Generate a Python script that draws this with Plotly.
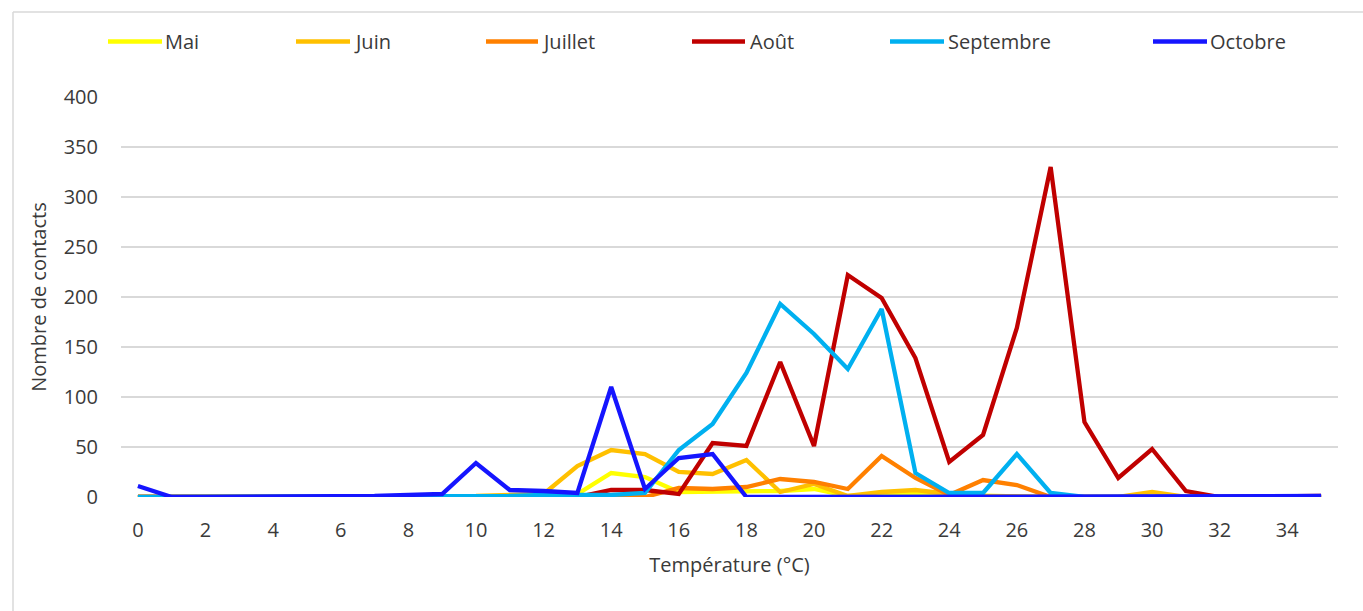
import plotly.graph_objects as go

temperatures = list(range(0, 36))
series_names = ["Mai", "Juin", "Juillet", "Août", "Septembre", "Octobre"]
series_colors = ["#FFFF00", "#FFC000", "#FF8000", "#C00000", "#00B0F0", "#1515FF"]

mai = [0, 0, 0, 0, 0, 0, 0, 0, 0, 0, 0, 1, 2, 3, 24, 20, 5, 5, 5, 6, 8, 1, 2, 3, 2, 1, 0, 0, 0, 0, 0, 0, 0, 0, 0, 0]
juin = [0, 0, 0, 0, 0, 0, 0, 0, 0, 0, 1, 2, 3, 31, 47, 43, 25, 23, 37, 5, 13, 1, 5, 7, 3, 1, 0, 0, 0, 0, 5, 0, 0, 0, 0, 0]
juillet = [0, 0, 0, 0, 0, 0, 0, 0, 0, 0, 0, 0, 0, 0, 1, 0, 9, 8, 10, 18, 15, 8, 41, 19, 2, 17, 12, 0, 0, 0, 0, 0, 0, 0, 0, 0]
aout = [0, 0, 0, 0, 0, 0, 0, 0, 0, 0, 0, 0, 0, 0, 7, 7, 3, 54, 51, 135, 51, 222, 199, 139, 35, 62, 169, 330, 75, 19, 48, 6, 0, 0, 0, 1]
septembre = [0, 0, 0, 0, 0, 0, 0, 0, 0, 0, 1, 1, 2, 2, 2, 4, 47, 73, 124, 193, 163, 128, 188, 24, 4, 4, 43, 4, 0, 0, 0, 0, 0, 0, 0, 0]
octobre = [11, 0, 0, 0, 0, 0, 0, 1, 2, 3, 34, 7, 6, 4, 110, 8, 39, 43, 0, 0, 0, 0, 0, 0, 0, 0, 0, 0, 0, 0, 0, 0, 0, 0, 0, 1]

x_ticks = list(range(0, 36, 2))
y_ticks = list(range(0, 401, 50))

all_series = [mai, juin, juillet, aout, septembre, octobre]

FONT = "Open Sans"
TEXT_COLOR = "#3A3A3A"
GRID = "#D9D9D9"

# plot area in pixels
L, R, T, B = 121, 25, 97, 114
W, H = 1363, 611
PW, PH = W - L - R, H - T - B


def px_x(p):
    return (p - L) / PW


def px_y(p):
    return (H - B - p) / PH


fig = go.Figure()
for name, color, vals in zip(series_names, series_colors, all_series):
    fig.add_trace(go.Scatter(
        x=temperatures, y=vals, name=name, mode="lines",
        line=dict(color=color, width=4.3), showlegend=False,
    ))

# manual legend (matches Excel positions)
legend_pos = [(108, 162, 165), (296, 350, 354), (486, 538, 542),
              (692, 745, 750), (890, 944, 948), (1153, 1207, 1210)]
ly = px_y(41.5)
shapes = []
annotations = []
for (x0, x1, xt), name, color in zip(legend_pos, series_names, series_colors):
    shapes.append(dict(type="line", xref="paper", yref="paper",
                       x0=px_x(x0), x1=px_x(x1), y0=ly, y1=ly,
                       line=dict(color=color, width=4.5)))
    annotations.append(dict(xref="paper", yref="paper", x=px_x(xt), y=ly,
                            text=name, showarrow=False, xanchor="left",
                            yanchor="middle", xshift=-2,
                            font=dict(family=FONT, size=20, color=TEXT_COLOR)))

# chart outer border (left and top visible)
shapes.append(dict(type="line", xref="paper", yref="paper",
                   x0=px_x(13), x1=px_x(13), y0=px_y(12), y1=px_y(620),
                   line=dict(color=GRID, width=1.5)))
shapes.append(dict(type="line", xref="paper", yref="paper",
                   x0=px_x(13), x1=px_x(1370), y0=px_y(12), y1=px_y(12),
                   line=dict(color=GRID, width=1.5)))

fig.update_layout(
    width=W, height=H,
    margin=dict(l=L, r=R, t=T, b=B),
    paper_bgcolor="white", plot_bgcolor="white",
    font=dict(family=FONT, size=20, color=TEXT_COLOR),
    shapes=shapes, annotations=annotations,
    xaxis=dict(
        range=[-0.5, 35.5], tickmode="array", tickvals=x_ticks,
        ticktext=[str(v) for v in x_ticks],
        showgrid=False, zeroline=False, showline=False, ticks="",
        ticklabelstandoff=19,
        title=dict(text="Température (°C)", standoff=15,
                   font=dict(family=FONT, size=20, color=TEXT_COLOR)),
    ),
    yaxis=dict(
        range=[0, 400], tickmode="array", tickvals=y_ticks,
        showgrid=True, gridcolor=GRID, gridwidth=1.5,
        zeroline=False, showline=False, ticks="",
        ticklabelstandoff=22,
        title=dict(text="Nombre de contacts", standoff=11,
                   font=dict(family=FONT, size=20, color=TEXT_COLOR)),
    ),
)

fig.write_html(
    "out.html",
    config={"displayModeBar": False},
    post_script="document.body.style.margin='0';document.body.style.overflow='hidden';",
)
